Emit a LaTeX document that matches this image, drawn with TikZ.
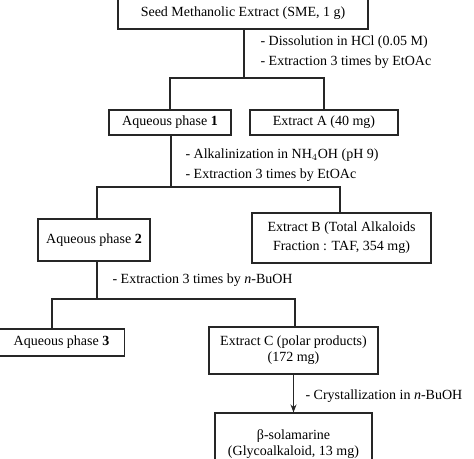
\documentclass[tikz,border=0pt]{standalone}
\usepackage{fontspec}
\setmainfont{Liberation Serif}
\usepackage{tikz}
\usetikzlibrary{arrows.meta}
\usetikzlibrary{arrows}
\usetikzlibrary{calc}
\usetikzlibrary{positioning}

\begin{document}
\begin{tikzpicture}[x=0.75pt, y=-0.75pt, >={Stealth[length=6pt, width=4.5pt]}, line width=0.8pt,
	font=\fontsize{10.5}{12}\selectfont,
	stage/.style={rectangle, draw=black!85, align=center, inner sep=0pt},
	note/.style={anchor=west, inner sep=0pt},
]
\useasboundingbox (0,0) rectangle (474,459);
\clip (0,0) rectangle (474,459);
% boxes
\node [stage, minimum width=250*0.75pt, minimum height=31*0.75pt] (sme) at (243,13.5) {Seed Methanolic Extract (SME, 1 g)};
\node [stage, minimum width=122*0.75pt, minimum height=25*0.75pt] (aq1) at (170,122.5) {Aqueous phase \textbf{1}};
\node [stage, minimum width=148*0.75pt, minimum height=25*0.75pt] (exa) at (324,122.5) {Extract A (40 mg)};
\node [stage, minimum width=112*0.75pt, minimum height=42*0.75pt] (aq2) at (94,240) {Aqueous phase \textbf{2}};
\node [stage, minimum width=179*0.75pt, minimum height=50*0.75pt,
	font=\fontsize{10.5}{14.25}\selectfont] (exb) at (341.5,238) {Extract B (Total Alkaloids\\Fraction : TAF, 354 mg)};
\node [stage, minimum width=126*0.75pt, minimum height=27*0.75pt] (aq3) at (61.5,342.5) {Aqueous phase \textbf{3}};
\node [stage, minimum width=169*0.75pt, minimum height=47*0.75pt] (exc) at (293.5,350.5) {Extract C (polar products)\\(172 mg)};
\node [stage, minimum width=157*0.75pt, minimum height=62*0.75pt] (sol) at (293.5,444) {β-solamarine\\(Glycoalkaloid, 13 mg)};
% junctions
\coordinate (j1) at (244,78);
\coordinate (j2) at (171,187);
\coordinate (j2l) at (97,187);
\coordinate (j2r) at (340,187);
\coordinate (j3) at (97,299);
\coordinate (j3l) at (52,299);
\coordinate (j3r) at (295,299);
% connectors
\draw [black!85] (sme.south -| j1) -- (j1);
\draw [black!85] (aq1.north) |- (j1) -| (exa.north);
\draw [black!85] (aq1.south -| j2) -- (j2);
\draw [black!85] (aq2.north -| j2l) -- (j2l) -- (j2r) -- (exb.north -| j2r);
\draw [black!85] (aq2.south -| j3) -- (j3);
\draw [black!85] (aq3.north -| j3l) -- (j3l) -- (j3r) -- (exc.north -| j3r);
\draw [->, black!85] (exc.south) -- (sol.north);
% notes
\node [note] (n1) at (260,42) {- Dissolution in HCl (0.05 M)};
\node [note] (n2) at (260,62) {- Extraction 3 times by EtOAc};
\node [note] (n3) at (185,155) {- Alkalinization in NH$_4$OH (pH 9)};
\node [note] (n4) at (185,175) {- Extraction 3 times by EtOAc};
\node [note] (n5) at (112,280) {- Extraction 3 times by \textit{n}-BuOH};
\node [note] (n6) at (305,396) {- Crystallization in \textit{n}-BuOH};
\end{tikzpicture}
\end{document}
